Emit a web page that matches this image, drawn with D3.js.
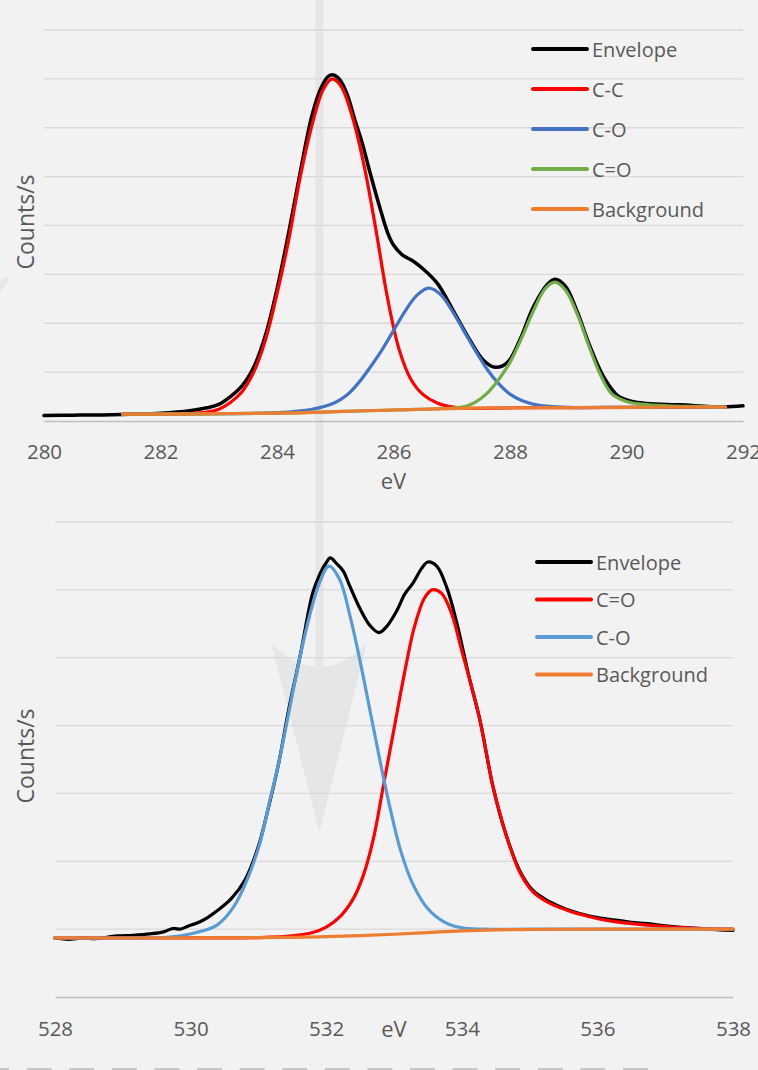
<!DOCTYPE html>
<html>
<head>
<meta charset="utf-8">
<script src="https://cdn.jsdelivr.net/npm/d3@7/dist/d3.min.js"></script>
<style>
  html, body { margin: 0; padding: 0; background: #f2f2f2; }
  svg { display: block; }
  text { font-family: "Open Sans", sans-serif; fill: #595959; }
</style>
</head>
<body>
<svg id="chart" width="758" height="1070"></svg>
<script>
// ---------- DATA: C 1s (top) ----------
const topTicks = [280, 282, 284, 286, 288, 290, 292];
const topGrid = [1, 2, 3, 4, 5, 6, 7, 8];
const topEnvelope = [[280,0.11],[280.5,0.12],[281,0.125],[281.5,0.14],[282,0.16],[282.5,0.21],[282.8,0.27],[283.0,0.34],[283.2,0.5],[283.4,0.72],[283.6,1.1],[283.8,1.75],[284.0,2.7],[284.2,3.85],[284.4,5.1],[284.6,6.25],[284.75,6.8],[284.88,7.05],[284.97,7.08],[285.08,6.98],[285.2,6.7],[285.34,6.15],[285.46,5.7],[285.6,5.07],[285.77,4.35],[285.9,3.85],[286.0,3.6],[286.15,3.4],[286.34,3.27],[286.5,3.12],[286.75,2.82],[287.02,2.27],[287.31,1.66],[287.54,1.25],[287.74,1.1],[287.95,1.19],[288.17,1.66],[288.4,2.33],[288.63,2.78],[288.77,2.9],[288.95,2.76],[289.15,2.25],[289.35,1.6],[289.6,0.92],[289.85,0.52],[290.1,0.4],[290.35,0.36],[290.92,0.33],[291.66,0.29],[292,0.31]];
const topCC = [[281.35,0.14],[282,0.14],[282.5,0.15],[282.8,0.18],[283.0,0.24],[283.2,0.38],[283.4,0.6],[283.6,1.0],[283.8,1.65],[284.0,2.6],[284.2,3.7],[284.4,5.0],[284.6,6.05],[284.8,6.8],[284.95,7.0],[285.1,6.85],[285.3,6.2],[285.5,5.2],[285.7,3.9],[285.9,2.5],[286.1,1.45],[286.3,0.85],[286.5,0.55],[286.75,0.37],[287.0,0.29],[287.3,0.26],[288,0.27],[289,0.275],[291.7,0.285]];
const topCO = [[281.35,0.14],[283,0.15],[284,0.17],[284.6,0.24],[285.0,0.38],[285.2,0.53],[285.4,0.78],[285.6,1.1],[285.8,1.45],[286.0,1.85],[286.2,2.25],[286.4,2.57],[286.6,2.72],[286.8,2.6],[287.0,2.27],[287.2,1.86],[287.4,1.45],[287.6,1.07],[287.8,0.77],[288.0,0.55],[288.2,0.42],[288.5,0.32],[289,0.28],[290,0.28],[291.7,0.285]];
const topCdO = [[281.35,0.14],[284,0.16],[285,0.19],[286,0.225],[286.8,0.255],[287.2,0.29],[287.4,0.38],[287.6,0.56],[287.8,0.84],[288.0,1.2],[288.2,1.7],[288.4,2.25],[288.6,2.7],[288.77,2.84],[288.95,2.68],[289.15,2.2],[289.35,1.55],[289.55,0.95],[289.75,0.55],[290.0,0.4],[290.3,0.34],[290.7,0.31],[291.0,0.3],[291.7,0.285]];
const topBackground = [[281.35,0.14],[282,0.14],[283,0.15],[284,0.16],[284.5,0.17],[285,0.19],[285.5,0.21],[286,0.225],[286.5,0.24],[287,0.255],[287.5,0.265],[288,0.27],[289,0.275],[290,0.28],[291.7,0.285]];
const topLegend = ["Envelope", "C-C", "C-O", "C=O", "Background"];
const topColors = ["#000000", "#ff0000", "#4472c4", "#70ad47", "#ed7d31"];

// ---------- DATA: O 1s (bottom) ----------
const botTicks = [528, 530, 532, 534, 536, 538];
const botGrid = [1, 2, 3, 4, 5, 6, 7];
const botEnvelope = [[528,0.87],[528.2,0.85],[528.41,0.87],[528.6,0.86],[528.91,0.9],[529.15,0.91],[529.4,0.93],[529.6,0.96],[529.74,1.01],[529.85,1.0],[529.95,1.04],[530.14,1.11],[530.25,1.17],[530.39,1.27],[530.6,1.45],[530.8,1.72],[531.0,2.22],[531.15,2.8],[531.3,3.45],[531.45,4.25],[531.62,5.05],[531.8,5.95],[531.91,6.24],[532.0,6.4],[532.06,6.47],[532.16,6.38],[532.25,6.28],[532.35,6.05],[532.5,5.72],[532.65,5.47],[532.78,5.37],[532.9,5.47],[533.04,5.69],[533.16,5.94],[533.28,6.1],[533.41,6.32],[533.5,6.41],[533.63,6.35],[533.78,6.03],[533.93,5.5],[534.1,4.75],[534.27,4.07],[534.46,3.1],[534.65,2.4],[534.85,1.87],[535.05,1.57],[535.3,1.4],[535.55,1.29],[535.9,1.19],[536.14,1.15],[536.3,1.13],[536.5,1.1],[536.73,1.08],[537.0,1.05],[537.47,1.01],[537.8,0.99],[538,0.98]];
const botCdO = [[528,0.87],[530,0.87],[531,0.875],[531.5,0.9],[531.8,0.95],[532.0,1.03],[532.2,1.18],[532.4,1.45],[532.55,1.8],[532.7,2.35],[532.85,3.15],[533.0,3.95],[533.15,4.75],[533.3,5.45],[533.45,5.88],[533.56,6.0],[533.7,5.95],[533.85,5.65],[534.0,5.1],[534.12,4.66],[534.27,4.07],[534.46,3.1],[534.65,2.4],[534.85,1.85],[535.05,1.55],[535.3,1.38],[535.55,1.28],[535.9,1.18],[536.14,1.13],[536.73,1.06],[537.47,1.01],[538,1.0]];
const botCO = [[528,0.87],[529,0.87],[529.65,0.88],[530.04,0.94],[530.39,1.06],[530.63,1.32],[530.83,1.72],[531.02,2.26],[531.17,2.9],[531.3,3.45],[531.45,4.2],[531.6,4.95],[531.75,5.6],[531.9,6.1],[532.04,6.35],[532.2,6.15],[532.35,5.62],[532.5,4.95],[532.65,4.2],[532.8,3.45],[532.95,2.75],[533.1,2.15],[533.28,1.66],[533.5,1.3],[533.75,1.1],[534.0,1.02],[534.3,1.0],[535,1.0],[538,1.0]];
const botBackground = [[528,0.87],[530,0.87],[531,0.875],[531.5,0.88],[532,0.89],[532.5,0.905],[533,0.925],[533.5,0.95],[534,0.975],[534.5,0.99],[535,0.995],[536,1.0],[538,1.0]];
const botLegend = ["Envelope", "C=O", "C-O", "Background"];
const botColors = ["#000000", "#ff0000", "#5b9bd5", "#ed7d31"];

// ---------- DRAW ----------
const svg = d3.select("#chart");

// faint watermark behind the charts
const wm = svg.append("g").attr("fill", "#e6e6e6");
wm.append("rect").attr("x", 315.5).attr("y", 0).attr("width", 8).attr("height", 668);
wm.append("path").attr("d", "M271,643 Q296,667 319.5,667 Q343,667 367,643 L319.5,832 Z");
svg.append("line").attr("x1", -4).attr("y1", 292).attr("x2", 6).attr("y2", 280)
  .attr("stroke", "#e6e6e6").attr("stroke-width", 6).attr("stroke-linecap", "round");

function drawChart(cfg) {
  const g = svg.append("g");
  const x = d3.scaleLinear().domain(cfg.xDomain).range([cfg.left, cfg.right]);
  const y = d3.scaleLinear().domain(cfg.yDomain).range([cfg.bottom, cfg.top]);

  // gridlines
  g.append("g").selectAll("line").data(cfg.grid).join("line")
    .attr("x1", cfg.left).attr("x2", cfg.right)
    .attr("y1", d => y(d)).attr("y2", d => y(d))
    .attr("stroke", "#d9d9d9").attr("stroke-width", 1.3);

  // x axis
  const ax = g.append("g").attr("transform", `translate(0,${cfg.bottom})`)
    .call(d3.axisBottom(x).tickValues(cfg.ticks).tickFormat(d3.format("d"))
      .tickSizeInner(0).tickSizeOuter(0).tickPadding(cfg.tickPad));
  ax.select(".domain").attr("stroke", "#bfbfbf").attr("stroke-width", 1.5);
  ax.selectAll("text").style("font-family", '"Open Sans", sans-serif')
    .style("font-size", "20.5px").attr("fill", "#595959");

  // axis titles
  g.append("text").attr("x", (cfg.left + cfg.right) / 2).attr("y", cfg.xTitleY)
    .attr("text-anchor", "middle").style("font-size", "22px").text("eV");
  g.append("text").attr("transform", `translate(${cfg.yTitleX},${cfg.yTitleY}) rotate(-90)`)
    .attr("text-anchor", "middle").style("font-size", "23px").text("Counts/s");

  // series
  const line = d3.line().x(d => x(d[0])).y(d => y(d[1])).curve(d3.curveCatmullRom.alpha(0.5));
  cfg.series.forEach((s, i) => {
    g.append("path").datum(s.data).attr("d", line)
      .attr("fill", "none").attr("stroke", s.color)
      .attr("stroke-width", s.width).attr("stroke-linejoin", "round").attr("stroke-linecap", "round");
  });

  // legend
  const lg = g.append("g");
  cfg.legend.forEach((name, i) => {
    const ly = cfg.legendY + i * cfg.legendStep;
    lg.append("line").attr("x1", cfg.legendX).attr("x2", cfg.legendX + 54)
      .attr("y1", ly).attr("y2", ly).attr("stroke", cfg.legendColors[i])
      .attr("stroke-width", 4).attr("stroke-linecap", "round");
    lg.append("text").attr("x", cfg.legendX + 59).attr("y", ly + 7.5)
      .style("font-size", "20px").text(name);
  });
}

drawChart({
  xDomain: [280, 292], yDomain: [0, 8],
  left: 44, right: 743, top: 30, bottom: 421,
  grid: topGrid, ticks: topTicks, tickPad: 23.5,
  xTitleY: 489, yTitleX: 34, yTitleY: 222,
  series: [
    { data: topEnvelope, color: "#000000", width: 3.5 },
    { data: topCC, color: "#ff0000", width: 3.2 },
    { data: topCO, color: "#4472c4", width: 3.2 },
    { data: topCdO, color: "#70ad47", width: 3.2 },
    { data: topBackground, color: "#ed7d31", width: 3.2 }
  ],
  legend: topLegend, legendColors: topColors,
  legendX: 533, legendY: 49, legendStep: 40
});

drawChart({
  xDomain: [528, 538], yDomain: [0, 7],
  left: 55, right: 733, top: 522, bottom: 997,
  grid: botGrid, ticks: botTicks, tickPad: 24.5,
  xTitleY: 1037, yTitleX: 34, yTitleY: 756,
  series: [
    { data: botEnvelope, color: "#000000", width: 3.2 },
    { data: botCdO, color: "#ff0000", width: 3.2 },
    { data: botCO, color: "#5b9bd5", width: 3.2 },
    { data: botBackground, color: "#ed7d31", width: 3.2 }
  ],
  legend: botLegend, legendColors: botColors,
  legendX: 537, legendY: 562, legendStep: 37.5
});

// dashed edge at the very bottom
svg.append("line").attr("x1", -16).attr("x2", 648).attr("y1", 1069).attr("y2", 1069)
  .attr("stroke", "#c8c8c8").attr("stroke-width", 2).attr("stroke-dasharray", "25 17.6");
</script>
</body>
</html>
